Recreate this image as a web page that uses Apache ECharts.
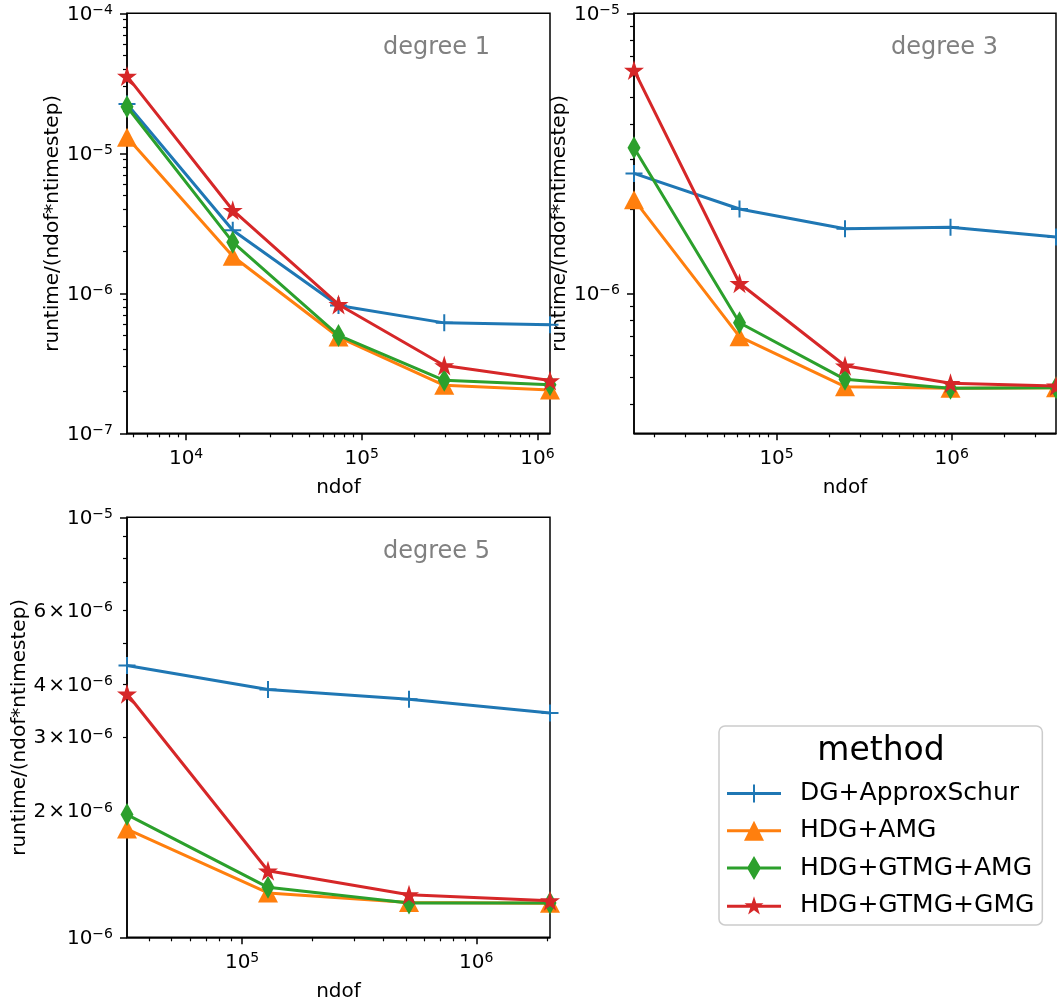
<!DOCTYPE html>
<html><head><meta charset="utf-8">
<script src="https://cdn.jsdelivr.net/npm/echarts@6/dist/echarts.min.js"></script>
<style>html,body{margin:0;padding:0;background:#fff}#c{width:1057px;height:1006px}</style>
</head><body><div id="c"></div>
<script>
// ---------------- data ----------------
const methods = ['DG+ApproxSchur', 'HDG+AMG', 'HDG+GTMG+AMG', 'HDG+GTMG+GMG'];
const panelTitles = ['degree 1', 'degree 3', 'degree 5'];

const ndofDeg1 = [4608, 18432, 73728, 294912, 1179648];
const ndofDeg3 = [15360, 61440, 245760, 983040, 3932160];
const ndofDeg5 = [32256, 129024, 516096, 2064384];

const deg1DG       = [2.25e-5, 2.82e-6, 8.18e-7, 6.15e-7, 5.96e-7];
const deg1AMG      = [1.30e-5, 1.84e-6, 4.87e-7, 2.20e-7, 2.04e-7];
const deg1GTMGAMG  = [2.15e-5, 2.32e-6, 5.00e-7, 2.39e-7, 2.22e-7];
const deg1GTMGGMG  = [3.56e-5, 3.92e-6, 8.32e-7, 3.05e-7, 2.38e-7];

const deg3DG       = [2.68e-6, 2.00e-6, 1.70e-6, 1.72e-6, 1.59e-6];
const deg3AMG      = [2.16e-6, 7.00e-7, 4.64e-7, 4.58e-7, 4.60e-7];
const deg3GTMGAMG  = [3.31e-6, 7.85e-7, 4.93e-7, 4.58e-7, 4.60e-7];
const deg3GTMGGMG  = [6.27e-6, 1.086e-6, 5.51e-7, 4.77e-7, 4.67e-7];

const deg5DG       = [4.44e-6, 3.89e-6, 3.69e-6, 3.42e-6];
const deg5AMG      = [1.81e-6, 1.275e-6, 1.21e-6, 1.205e-6];
const deg5GTMGAMG  = [1.96e-6, 1.315e-6, 1.207e-6, 1.207e-6];
const deg5GTMGGMG  = [3.80e-6, 1.44e-6, 1.263e-6, 1.222e-6];

// axis ranges and tick values
const xRange1 = [4608, 1179648], xRange3 = [15360, 3932160], xRange5 = [32256, 2064384];
const yRange1 = [1e-7, 1e-4], yRange3 = [3.1623e-7, 1e-5], yRange5 = [1e-6, 1e-5];
const xMajor1 = [1e4, 1e5, 1e6], xMajor3 = [1e5, 1e6], xMajor5 = [1e5, 1e6];
const yMajor1 = [1e-7, 1e-6, 1e-5, 1e-4], yMajor3 = [1e-6, 1e-5], yMajor5 = [1e-6, 1e-5];
const yMinorLabels5 = [2e-6, 3e-6, 4e-6, 6e-6];
const minorMantissas = [2, 3, 4, 5, 6, 7, 8, 9];

// ---------------- styling ----------------
const FONT = 'DejaVu Sans';
const colors = ['#1f77b4', '#ff7f0e', '#2ca02c', '#d62728'];

function starPath(R, r, cx, cy) {
  let s = '';
  for (let k = 0; k < 10; k++) {
    const a = (-90 + k * 36) * Math.PI / 180;
    const rad = k % 2 === 0 ? R : r;
    s += (k === 0 ? 'M' : 'L') + (cx + rad * Math.cos(a)).toFixed(3) + ',' + (cy + rad * Math.sin(a)).toFixed(3);
  }
  return s + 'Z';
}
const symbols = [
  'path://M-1,0L1,0M0,-1L0,1',
  'triangle',
  'diamond',
  'path://' + starPath(10, 3.82, 0, 0)
];
const symbolSizes = [17, [20, 19], [13, 23], 20];
const legendIcons = [
  'path://M0,12.5H54V15.5H0ZM26,5H28V23H26Z',
  'path://M0,12.5H54V15.5H0ZM17,24L27,4L37,24Z',
  'path://M0,12.5H54V15.5H0ZM27,2L34,14L27,26L20,14Z',
  'path://M0,12.5H54V15.5H0Z' + starPath(10, 3.82, 27, 14)
];

function minorTicks(range) {
  const out = [];
  for (let e = Math.floor(Math.log10(range[0])); e <= Math.ceil(Math.log10(range[1])); e++) {
    minorMantissas.forEach(m => {
      const v = +(m * Math.pow(10, e)).toPrecision(6);
      if (v >= range[0] && v <= range[1]) out.push(v);
    });
  }
  return out;
}

function sup(e) { return (e < 0 ? '\u2212' : '') + Math.abs(e); }
function majorFmt(v) {
  const e = Math.round(Math.log10(v));
  return '{b|10}{s|' + sup(e) + '}';
}
function minorFmt(v) {
  const e = Math.floor(Math.log10(v) + 1e-9);
  const m = Math.round(v / Math.pow(10, e));
  return '{b|' + m + '\u200a\u00d7\u200a10}{s|' + sup(e) + '}';
}
const rich = {
  b: { fontSize: 20, fontFamily: FONT, color: '#000', lineHeight: 20, padding: [7, 0, 5, 0] },
  s: { fontSize: 14, fontFamily: FONT, color: '#000', lineHeight: 20, verticalAlign: 'top' }
};

const grids = [
  { left: 127, top: 13.3, width: 423, height: 420 },
  { left: 634, top: 13.3, width: 422, height: 420 },
  { left: 127, top: 517.3, width: 423, height: 420 }
];
const panels = [
  { ndof: ndofDeg1, vals: [deg1DG, deg1AMG, deg1GTMGAMG, deg1GTMGGMG], xr: xRange1, yr: yRange1, xM: xMajor1, yM: yMajor1, yMinLab: [], nameGap: 59 },
  { ndof: ndofDeg3, vals: [deg3DG, deg3AMG, deg3GTMGAMG, deg3GTMGGMG], xr: xRange3, yr: yRange3, xM: xMajor3, yM: yMajor3, yMinLab: [], nameGap: 61 },
  { ndof: ndofDeg5, vals: [deg5DG, deg5AMG, deg5GTMGAMG, deg5GTMGGMG], xr: xRange5, yr: yRange5, xM: xMajor5, yM: yMajor5, yMinLab: yMinorLabels5, nameGap: 97 }
];

const xAxis = [], yAxis = [], series = [];
panels.forEach((p, i) => {
  const axLine = { show: true, lineStyle: { color: '#000', width: 1.5 } };
  xAxis.push({
    type: 'log', gridIndex: i, min: p.xr[0], max: p.xr[1], position: 'bottom',
    axisLine: axLine,
    axisTick: { show: true, length: 7, lineStyle: { color: '#000', width: 1.5 }, customValues: p.xM },
    axisLabel: { show: true, customValues: p.xM, formatter: majorFmt, rich: rich, margin: 14 },
    splitLine: { show: false }, minorTick: { show: false },
    name: 'ndof', nameLocation: 'middle', nameGap: 44,
    nameTextStyle: { fontSize: 20, fontFamily: FONT, color: '#000' }
  });
  xAxis.push({
    type: 'log', gridIndex: i, min: p.xr[0], max: p.xr[1], position: 'bottom',
    axisLine: { show: false },
    axisTick: { show: true, length: 4, lineStyle: { color: '#000', width: 1.2 }, customValues: minorTicks(p.xr) },
    axisLabel: { show: false }, splitLine: { show: false }
  });
  yAxis.push({
    type: 'log', gridIndex: i, min: p.yr[0], max: p.yr[1], position: 'left',
    axisLine: axLine,
    axisTick: { show: true, length: 7, lineStyle: { color: '#000', width: 1.5 }, customValues: p.yM },
    axisLabel: { show: true, customValues: p.yM, formatter: majorFmt, rich: rich, margin: 14 },
    splitLine: { show: false }, minorTick: { show: false },
    name: 'runtime/(ndof*ntimestep)', nameLocation: 'middle', nameRotate: 90, nameGap: p.nameGap,
    nameTextStyle: { fontSize: 20, fontFamily: FONT, color: '#000' }
  });
  yAxis.push({
    type: 'log', gridIndex: i, min: p.yr[0], max: p.yr[1], position: 'left',
    axisLine: { show: false },
    axisTick: { show: true, length: 4, lineStyle: { color: '#000', width: 1.2 }, customValues: minorTicks(p.yr) },
    axisLabel: { show: p.yMinLab.length > 0, customValues: p.yMinLab.length ? p.yMinLab : undefined, formatter: minorFmt, rich: rich, margin: 14 },
    splitLine: { show: false }
  });
  methods.forEach((m, k) => {
    series.push({
      type: 'line', name: m, xAxisIndex: 2 * i, yAxisIndex: 2 * i,
      data: p.ndof.map((x, j) => [x, p.vals[k][j]]),
      symbol: symbols[k], symbolSize: symbolSizes[k], showAllSymbol: true,
      lineStyle: { color: colors[k], width: 3 },
      itemStyle: k === 0 ? { color: colors[k], borderColor: colors[k], borderWidth: 2 } : { color: colors[k], borderWidth: 0 },
      clip: false, animation: false, z: 2 + k
    });
  });
});

const titleRight = [490, 998, 490];
const titleMid = [48, 48, 552];
const graphic = panelTitles.map((t, i) => ({
  type: 'text', x: titleRight[i], y: titleMid[i], z: 100,
  style: { text: t, fill: '#808080', font: '24px "DejaVu Sans"', textAlign: 'right', textVerticalAlign: 'middle' }
}));
graphic.push({
  type: 'text', x: 881, y: 751, z: 100,
  style: { text: 'method', fill: '#000', font: '33px "DejaVu Sans"', textAlign: 'center', textVerticalAlign: 'middle' }
});

const option = {
  animation: false,
  backgroundColor: '#fff',
  grid: grids.map(g => Object.assign({ show: true, borderColor: '#000', borderWidth: 1.5, containLabel: false, outerBoundsMode: 'none' }, g)),
  xAxis: xAxis, yAxis: yAxis, series: series, graphic: graphic,
  legend: {
    orient: 'vertical', left: 719, top: 726,
    data: methods.map((m, k) => ({ name: m, icon: legendIcons[k], itemStyle: { color: colors[k], borderWidth: 0 } })),
    itemWidth: 54, itemHeight: 28, itemGap: 12.3,
    padding: [55, 8, 7, 8],
    borderColor: '#cccccc', borderWidth: 1.5, borderRadius: 6, backgroundColor: '#fff',
    textStyle: { fontSize: 25, fontFamily: FONT, color: '#000', padding: [0, 0, 0, 14] },
    symbolKeepAspect: true,
    selectedMode: false
  }
};
const chart = echarts.init(document.getElementById('c'), null, { renderer: 'canvas' });
chart.setOption(option);
</script></body></html>
